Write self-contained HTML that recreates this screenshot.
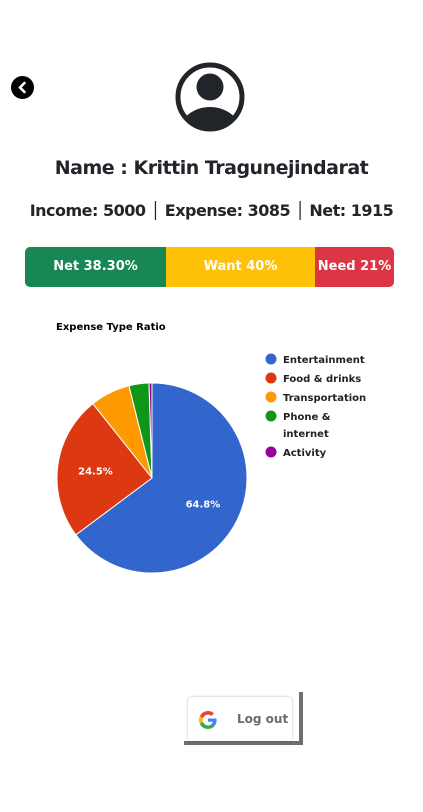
<!DOCTYPE html>
<html><head><meta charset="utf-8"><style>
body{margin:0;width:423px;height:812px;background:#fff;font-family:"DejaVu Sans","Liberation Sans",sans-serif;position:relative;overflow:hidden;color:#212529}
.abs{position:absolute}
.t{font-weight:bold;white-space:nowrap}
</style></head><body>
<div class="abs" style="left:11px;top:76px;width:23px;height:23px;border-radius:50%;background:#000">
<svg width="23" height="23"><path d="M13.5 7 L9 11.5 L13.5 16" stroke="#fff" stroke-width="2.6" fill="none" stroke-linecap="round"/></svg></div>
<svg class="abs" style="left:174px;top:61px" width="72" height="72">
<defs><clipPath id="c"><circle cx="36" cy="36" r="30"/></clipPath></defs>
<circle cx="36" cy="36" r="32" fill="none" stroke="#212529" stroke-width="5"/>
<circle cx="36" cy="26" r="13.5" fill="#212529"/>
<ellipse cx="36" cy="70" rx="30" ry="24" fill="#212529" clip-path="url(#c)"/>
</svg>
<div class="abs t" style="left:0;width:423px;text-align:center;top:157px;font-size:19px;letter-spacing:-0.5px">Name : Krittin Tragunejindarat</div>
<div class="abs t" style="left:0;width:423px;text-align:center;top:201px;font-size:16px;letter-spacing:-0.5px">Income: 5000 │ Expense: 3085 │ Net: 1915</div>
<div class="abs" style="left:25px;top:247px;width:369px;height:40px;border-radius:5px;overflow:hidden;display:flex;color:#fff;font-weight:bold;font-size:13px;line-height:40px;text-align:center">
<div style="width:141px;background:#198754">Net 38.30%</div>
<div style="width:149px;background:#ffc107">Want 40%</div>
<div style="width:79px;background:#dc3545">Need 21%</div>
</div>
<div class="abs t" style="left:56px;top:322px;font-size:10px;color:#000">Expense Type Ratio</div>
<svg id="pie" class="abs" style="left:0;top:0" width="423" height="812"></svg>
<div class="abs" style="left:184px;top:741px;width:119px;height:4px;background:#6e6e6e"></div>
<div class="abs" style="left:299px;top:692px;width:4px;height:53px;background:#6e6e6e"></div>
<div class="abs" style="left:188px;top:697px;width:104px;height:44px;background:#fff;border-radius:3px;box-shadow:0 0 2px rgba(0,0,0,.3)">
<svg class="abs" style="left:11px;top:14px" width="18" height="18" viewBox="0 0 18 18">
<path d="M17.6 9.2c0-.6-.1-1.2-.2-1.7H9v3.3h4.8c-.2 1.1-.8 2-1.8 2.6v2.2h2.9c1.7-1.6 2.7-3.900 2.7-6.4z" fill="#4285F4"/>
<path d="M9 18c2.4 0 4.5-.8 5.9-2.2L12 13.6c-.8.5-1.8.9-3 .9-2.3 0-4.3-1.6-5-3.7H1v2.3C2.4 16 5.5 18 9 18z" fill="#34A853"/>
<path d="M4 10.7c-.2-.5-.3-1.1-.3-1.7s.1-1.2.3-1.7V5H1C.4 6.2 0 7.6 0 9s.4 2.8 1 4z" fill="#FBBC05"/>
<path d="M9 3.6c1.3 0 2.5.5 3.4 1.3l2.6-2.6C13.5.9 11.4 0 9 0 5.5 0 2.4 2 1 5l3 2.3c.7-2.1 2.7-3.7 5-3.7z" fill="#EA4335"/>
</svg>
<div class="abs t" style="left:49px;top:15px;font-size:12px;color:#6b6b6b">Log out</div>
</div>
<script>
const categories=["Entertainment","Food & drinks","Transportation","Phone & internet","Activity"];
const values=[64.8,24.5,6.8,3.4,0.5];
const colors=["#3366cc","#dc3912","#ff9900","#109618","#990099"];
const svg=document.getElementById('pie');
const NS='http://www.w3.org/2000/svg';
const cx=152,cy=478,r=95;
const total=values.reduce((a,b)=>a+b,0);
function pt(a,rr){return [cx+rr*Math.sin(a),cy-rr*Math.cos(a)];}
let a0=0;
values.forEach((v,i)=>{
  const a1=a0+v/total*2*Math.PI;
  const p0=pt(a0,r),p1=pt(a1,r);
  const path=document.createElementNS(NS,'path');
  path.setAttribute('d',`M${cx},${cy}L${p0[0]},${p0[1]}A${r},${r} 0 ${a1-a0>Math.PI?1:0} 1 ${p1[0]},${p1[1]}Z`);
  path.setAttribute('fill',colors[i]);path.setAttribute('stroke','#fff');path.setAttribute('stroke-width','1');
  
  
  svg.appendChild(path);
  if(v/total>0.1){
    const m=pt((a0+a1)/2,r*0.6);
    const t=document.createElementNS(NS,'text');
    t.setAttribute('x',m[0]);t.setAttribute('y',m[1]+4);t.setAttribute('text-anchor','middle');
    t.setAttribute('fill','#fff');t.setAttribute('font-size','10');t.setAttribute('font-weight','bold');
    t.textContent=v.toFixed(1)+'%';
    
    
    svg.appendChild(t);
  }
  a0=a1;
});
let ly=359;
categories.forEach((c,i)=>{
  const g=document.createElementNS(NS,'g');
  
  
  const ci=document.createElementNS(NS,'circle');
  ci.setAttribute('cx',271);ci.setAttribute('cy',ly);ci.setAttribute('r',5.5);ci.setAttribute('fill',colors[i]);
  g.appendChild(ci);
  const words=c==="Phone & internet"?["Phone &","internet"]:[c];
  words.forEach((w,j)=>{
    const t=document.createElementNS(NS,'text');
    t.setAttribute('x',283);t.setAttribute('y',ly+4+j*17);t.setAttribute('font-size','10');t.setAttribute('font-weight','bold');t.setAttribute('fill','#222');
    t.textContent=w;g.appendChild(t);
  });
  svg.appendChild(g);
  ly+=19+(words.length-1)*17;
});
</script>
</body></html>
